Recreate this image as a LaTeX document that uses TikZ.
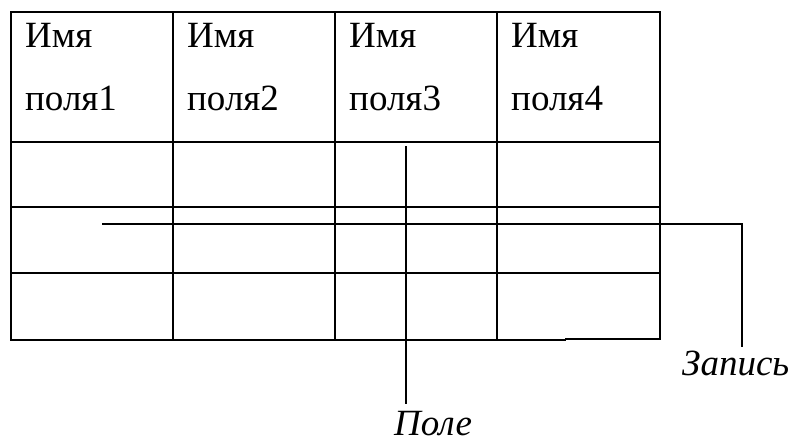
\documentclass[tikz,border=0pt]{standalone}
\usepackage{fontspec}
\setmainfont{Liberation Serif}
\begin{document}
\begin{tikzpicture}[x=1pt,y=-1pt,
  gridline/.style={line width=1.7pt,line cap=rect},
  thinline/.style={line width=1.1pt},
  leader/.style={line width=1.2pt},
  celltext/.style={anchor=base west,inner sep=0pt,font=\fontsize{37}{44}\selectfont},
  labeltext/.style={anchor=base west,inner sep=0pt,font=\fontsize{37}{44}\selectfont\itshape}]
\useasboundingbox (0,0) rectangle (792,442);

% table grid: columns and rows
\foreach \cx in {11,173,335,497,660}
  \draw[gridline] (\cx,12) -- (\cx,339);
\foreach \ry in {12,142,207,273}
  \draw[gridline] (11,\ry) -- (660,\ry);
\draw[gridline] (11,340) -- (565,340);
\draw[thinline] (565,339) -- (660,339);

% header texts
\foreach \n/\cx in {1/11,2/173,3/335,4/497} {
  \node[celltext] (nameA\n) at (\cx+14,47) {Имя};
  \node[celltext] (nameB\n) at (\cx+14,110) {поля\n};
}

% leaders and their labels
\node[labeltext] (field) at (394,435) {Поле};
\node[labeltext] (record) at (682,375) {Запись};

\coordinate (fieldTop) at (406,146);
\coordinate (fieldEnd) at (406,404);
\draw[leader] (fieldTop) -- (fieldEnd);

\coordinate (recStart) at (102,224);
\coordinate (recCorner) at (742,224);
\coordinate (recEnd) at (742,347);
\draw[leader] (recStart) -- (recCorner) -- (recEnd);
\end{tikzpicture}
\end{document}
